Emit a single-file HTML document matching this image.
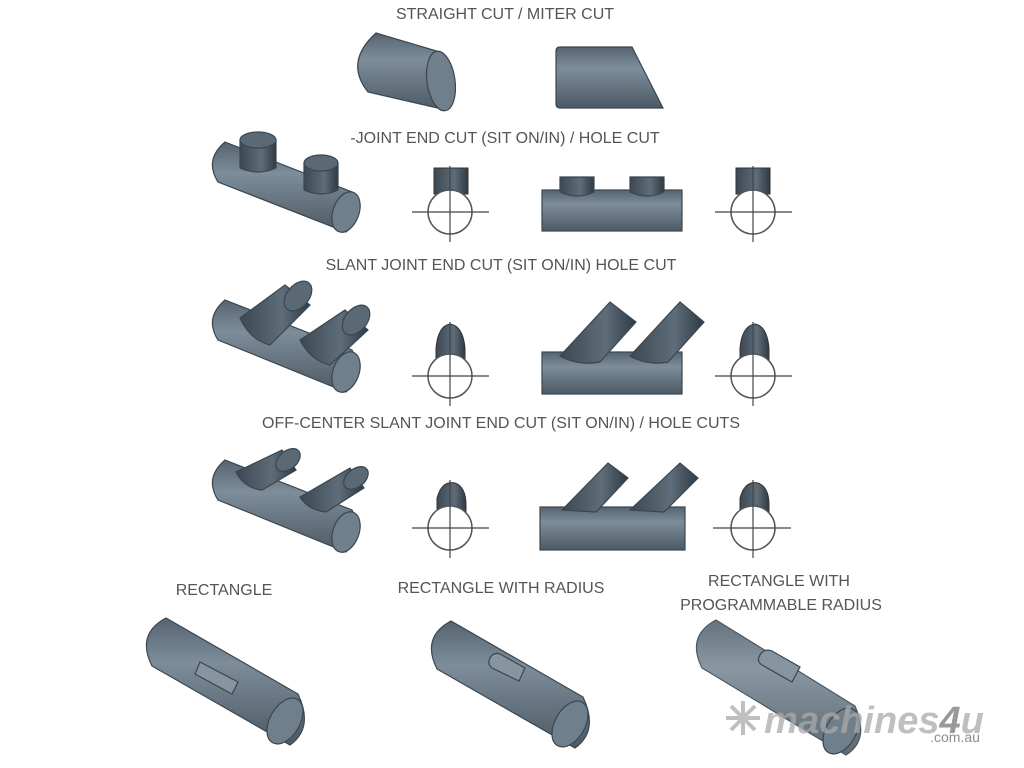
<!DOCTYPE html>
<html><head><style>
html,body{margin:0;padding:0;background:#fff;width:1024px;height:768px;overflow:hidden}
svg{display:block}
text{font-family:"Liberation Sans",sans-serif;font-size:16px;fill:#555;text-anchor:middle}
</style></head><body>
<svg width="1024" height="768" viewBox="0 0 1024 768">
<defs>
<linearGradient id="g" x1="0" y1="0" x2="0" y2="1">
<stop offset="0" stop-color="#556470"/><stop offset="0.35" stop-color="#7d8d99"/><stop offset="1" stop-color="#4c5a65"/></linearGradient>
<linearGradient id="d" x1="0" y1="0" x2="1" y2="0">
<stop offset="0" stop-color="#3c4852"/><stop offset="0.6" stop-color="#5e6d79"/><stop offset="1" stop-color="#2f3a43"/></linearGradient>
</defs>
<g fill="url(#g)" stroke="#3a4650" stroke-width="1.2">
<!-- row1 -->
<path d="M376 33 L440 52 Q462 82 446 110 L368 92 Q344 62 376 33Z"/>
<ellipse cx="441" cy="81" rx="14" ry="30" transform="rotate(-8 441 81)" fill="#6f7f8b"/>
<path d="M560 47 L632 47 L663 108 L560 108 Q556 108 556 104 L556 51 Q556 47 560 47Z"/>
<!-- row2 -->
<path d="M225 142 L352 192 Q366 215 346 232 L218 182 Q204 160 225 142Z"/>
<ellipse cx="346" cy="212" rx="13" ry="21" transform="rotate(20 346 212)" fill="#6f7f8b"/>
<path d="M240 140 L276 140 L276 168 Q258 176 240 168Z" fill="url(#d)"/>
<ellipse cx="258" cy="140" rx="18" ry="8" fill="#5b6974"/>
<path d="M304 163 L338 163 L338 190 Q321 198 304 190Z" fill="url(#d)"/>
<ellipse cx="321" cy="163" rx="17" ry="8" fill="#5b6974"/>
<rect x="542" y="190" width="140" height="41"/>
<path d="M560 177 L594 177 L594 192 Q577 200 560 192Z" fill="url(#d)"/>
<path d="M630 177 L664 177 L664 192 Q647 200 630 192Z" fill="url(#d)"/>
<!-- row3 -->
<path d="M225 300 L352 350 Q366 373 346 392 L218 340 Q204 318 225 300Z"/>
<ellipse cx="346" cy="372" rx="13" ry="21" transform="rotate(20 346 372)" fill="#6f7f8b"/>
<path d="M240 318 L285 285 L310 305 L270 345 Q250 340 240 318Z" fill="url(#d)"/>
<ellipse cx="298" cy="296" rx="11" ry="17" transform="rotate(40 298 296)" fill="#5b6974"/>
<path d="M300 340 L345 310 L368 330 L330 365 Q310 360 300 340Z" fill="url(#d)"/>
<ellipse cx="356" cy="320" rx="11" ry="17" transform="rotate(40 356 320)" fill="#5b6974"/>
<rect x="542" y="352" width="140" height="42"/>
<path d="M560 356 L610 302 L636 322 L600 362 Q578 366 560 356Z" fill="url(#d)"/>
<path d="M630 356 L680 302 L704 322 L668 362 Q648 366 630 356Z" fill="url(#d)"/>
<!-- row4 -->
<path d="M225 460 L352 510 Q366 533 346 552 L218 500 Q204 478 225 460Z"/>
<ellipse cx="346" cy="532" rx="13" ry="21" transform="rotate(20 346 532)" fill="#6f7f8b"/>
<path d="M236 472 L282 450 L296 470 L262 490 Q244 488 236 472Z" fill="url(#d)"/>
<ellipse cx="288" cy="460" rx="9" ry="14" transform="rotate(50 288 460)" fill="#5b6974"/>
<path d="M300 497 L350 468 L364 488 L326 512 Q308 510 300 497Z" fill="url(#d)"/>
<ellipse cx="356" cy="478" rx="9" ry="14" transform="rotate(50 356 478)" fill="#5b6974"/>
<rect x="540" y="507" width="145" height="43"/>
<path d="M562 510 L608 463 L628 478 L596 512Z" fill="url(#d)"/>
<path d="M630 510 L680 463 L698 478 L664 512Z" fill="url(#d)"/>
<!-- row5 tubes -->
<path d="M166 618 L298 694 Q314 728 290 745 L152 666 Q136 634 166 618Z"/>
<ellipse cx="285" cy="721" rx="15" ry="25" transform="rotate(30 285 721)" fill="#6f7f8b"/>
<path d="M200 662 L238 682 L232 694 L195 674Z" fill="#8795a0"/>
<path d="M451 621 L583 697 Q599 731 575 748 L437 669 Q421 637 451 621Z"/>
<ellipse cx="570" cy="724" rx="15" ry="25" transform="rotate(30 570 724)" fill="#6f7f8b"/>
<path d="M490 658 Q493 652 500 654 L525 668 L519 681 L492 668 Q487 664 490 658Z" fill="#8795a0"/>
<path d="M716 620 L855 706 Q870 740 846 755 L702 668 Q686 636 716 620Z" opacity="0.9"/>
<ellipse cx="841" cy="731" rx="15" ry="25" transform="rotate(30 841 731)" fill="#6f7f8b"/>
<path d="M760 655 Q764 648 772 651 L800 667 L792 682 L762 665 Q756 661 760 655Z" fill="#8795a0"/>
</g>
<!-- symbols -->
<g fill="url(#d)" stroke="#333" stroke-width="1">
<rect x="434" y="168" width="34" height="26"/>
<rect x="736" y="168" width="34" height="26"/>
<path d="M436 370 L436 348 Q438 326 450 324 Q463 326 465 348 L465 370Z"/>
<path d="M740 370 L740 348 Q742 326 755 324 Q767 326 769 348 L769 370Z"/>
<path d="M437 518 L437 498 Q442 480 455 483 Q466 487 466 505 L466 518Z"/>
<path d="M740 518 L740 498 Q745 480 758 483 Q769 487 769 505 L769 518Z"/>
</g>
<g fill="#fff" stroke="#555" stroke-width="1.5">
<circle cx="450" cy="212" r="22"/><circle cx="753" cy="212" r="22"/>
<circle cx="450" cy="376" r="22"/><circle cx="753" cy="376" r="22"/>
<circle cx="450" cy="528" r="22"/><circle cx="753" cy="528" r="22"/>
</g>
<g stroke="#444" stroke-width="1.2">
<line x1="412" y1="212" x2="489" y2="212"/><line x1="450" y1="166" x2="450" y2="242"/>
<line x1="715" y1="212" x2="792" y2="212"/><line x1="753" y1="166" x2="753" y2="242"/>
<line x1="412" y1="376" x2="489" y2="376"/><line x1="450" y1="322" x2="450" y2="406"/>
<line x1="715" y1="376" x2="792" y2="376"/><line x1="753" y1="322" x2="753" y2="406"/>
<line x1="412" y1="528" x2="489" y2="528"/><line x1="450" y1="480" x2="450" y2="558"/>
<line x1="713" y1="528" x2="791" y2="528"/><line x1="753" y1="480" x2="753" y2="558"/>
</g>
<text x="505" y="19">STRAIGHT CUT / MITER CUT</text>
<text x="505" y="143">-JOINT END CUT (SIT ON/IN) / HOLE CUT</text>
<text x="501" y="270">SLANT JOINT END CUT (SIT ON/IN) HOLE CUT</text>
<text x="501" y="428">OFF-CENTER SLANT JOINT END CUT (SIT ON/IN) / HOLE CUTS</text>
<text x="224" y="595">RECTANGLE</text>
<text x="501" y="593">RECTANGLE WITH RADIUS</text>
<text x="779" y="586">RECTANGLE WITH</text>
<text x="781" y="610">PROGRAMMABLE RADIUS</text>
<!-- logo -->
<g opacity="0.75">
<g stroke="#aaa" stroke-width="4"><line x1="726" y1="718" x2="760" y2="718"/><line x1="743" y1="701" x2="743" y2="735"/><line x1="731" y1="706" x2="755" y2="730"/><line x1="755" y1="706" x2="731" y2="730"/></g>
<text x="874" y="733" style="font-size:38px;font-weight:bold;font-style:italic;fill:#aaa">machines<tspan fill="#777">4</tspan>u</text>
<text x="955" y="742" style="font-size:14px;fill:#666">.com.au</text>
</g>
</svg>
</body></html>
